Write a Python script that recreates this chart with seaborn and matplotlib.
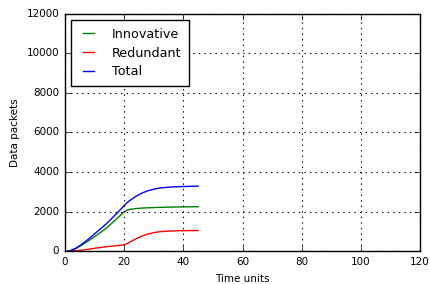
import matplotlib
matplotlib.use("Agg")
import matplotlib.pyplot as plt
import pandas as pd
import seaborn as sns

# values
time = [1, 2, 4, 6, 8, 10, 12, 14, 16, 18, 20, 21, 22, 24, 26, 28, 30,
        32, 34, 36, 38, 40, 42, 45]
innovative = [0, 20, 150, 330, 520, 730, 940, 1160, 1430, 1700, 1990, 2070,
              2110, 2150, 2175, 2190, 2200, 2210, 2220, 2225, 2230, 2235,
              2240, 2245]
redundant = [0, 5, 20, 50, 90, 140, 180, 220, 250, 280, 310, 380, 460, 620,
             760, 860, 930, 980, 1000, 1015, 1025, 1030, 1035, 1040]
total = [0, 25, 170, 380, 610, 870, 1120, 1380, 1680, 1980, 2300, 2450,
         2570, 2770, 2935, 3050, 3130, 3190, 3220, 3240, 3255, 3265, 3275,
         3285]

df = pd.DataFrame({
    "time": time * 3,
    "packets": innovative + redundant + total,
    "series": ["Innovative"] * len(time) + ["Redundant"] * len(time)
              + ["Total"] * len(time),
})

plt.style.use("classic")
plt.rcParams["font.family"] = ["DejaVu Sans"]

fig = plt.figure(figsize=(4.3, 2.84), dpi=100, facecolor="white")
ax = fig.add_axes([0.151, 0.116, 0.826, 0.835])

sns.lineplot(data=df, x="time", y="packets", hue="series",
             palette={"Innovative": "g", "Redundant": "r", "Total": "b"},
             linewidth=1, ax=ax)

ax.set_xlim(0, 120)
ax.set_ylim(0, 12000)
ax.set_xticks(range(0, 121, 20))
ax.set_yticks(range(0, 12001, 2000))
ax.grid(True, color="black", linestyle=":", linewidth=0.8)
ax.tick_params(labelsize=7.5)
ax.set_xlabel("Time units", fontsize=7.5)
ax.set_ylabel("Data packets", fontsize=7.5)

leg = ax.legend(loc="upper left", fontsize=9.2, frameon=True, fancybox=False,
                handlelength=1.5, handletextpad=1.1, borderpad=0.6,
                labelspacing=0.45)
leg.get_frame().set_edgecolor("black")

fig.savefig("out.png", dpi=100, facecolor="white")
